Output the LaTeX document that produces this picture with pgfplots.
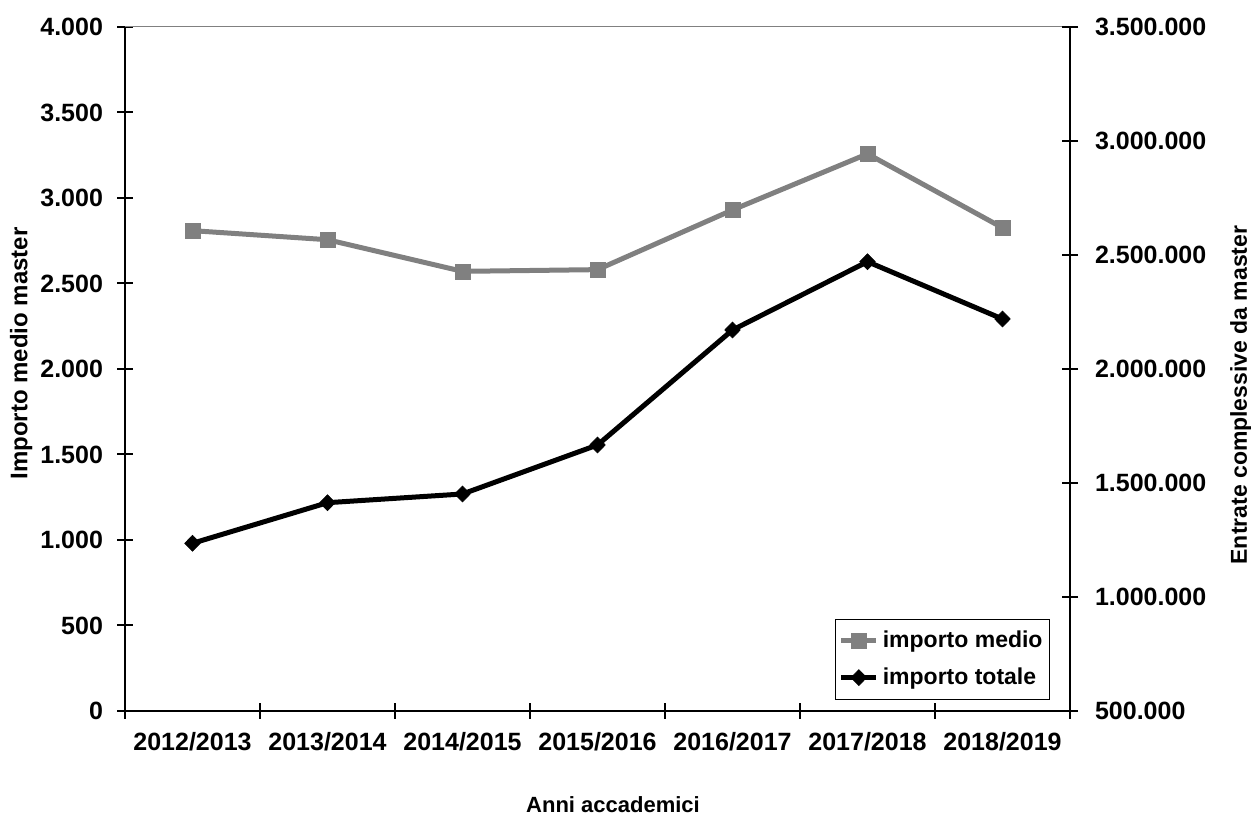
\documentclass[border=0pt]{standalone}
\usepackage{fontspec}
\setmainfont{Liberation Sans}
\usepackage{pgfplots}
\pgfplotsset{compat=1.18}

\definecolor{medio}{HTML}{808080}

% importo medio (left axis)
\pgfplotstableread{
x  y
0  2809
1  2756
2  2571
3  2581
4  2930
5  3258
6  2826
}\medio

% importo totale (right axis)
\pgfplotstableread{
x  y
0  1235526
1  1413596
2  1451754
3  1666667
4  2171053
5  2470614
6  2219298
}\totale

\pgfplotsset{
  commonax/.style={
    scale only axis, width=472.5pt, height=342pt,
    at={(62.5pt,53pt)}, anchor=south west,
    xmin=-0.5, xmax=6.5,
    tick align=center, major tick length=8pt,
    axis line style={line width=1pt},
    tick style={line width=1pt, black},
    ticklabel style={font=\fontsize{12.5}{15}\selectfont\bfseries},
    label style={font=\fontsize{11.5}{14}\selectfont\bfseries},
    /pgf/number format/.cd, fixed, precision=0, 1000 sep={.}, assume math mode=true,
  }
}

\begin{document}
\begin{tikzpicture}
\useasboundingbox (0,0) rectangle (625.5pt,408.5pt);

\begin{axis}[commonax,
  axis y line*=left, axis x line*=bottom,
  ymin=0, ymax=4000, ytick={0,500,...,4000},
  yticklabel style={xshift=-3.5pt},
  xtick={-0.5,0.5,...,6.5}, xticklabels={},
  extra x ticks={0,1,2,3,4,5,6},
  extra x tick labels={2012/2013,2013/2014,2014/2015,2015/2016,2016/2017,2017/2018,2018/2019},
  extra x tick style={major tick length=0pt, xticklabel style={yshift=-7pt}},
  ylabel={Importo medio master},
  ylabel style={at={(rel axis cs:-0.110,0.5227)}, anchor=center,
    font=\fontsize{12}{14}\selectfont\bfseries},
  xlabel={Anni accademici},
  xlabel style={at={(rel axis cs:0.5164,-0.1374)}, anchor=center,
    font=\fontsize{11}{13}\selectfont\bfseries},
]
\draw[medio, line width=0.5pt] (rel axis cs:0,1) -- (rel axis cs:1,1);
\addplot[medio, line width=2.5pt, mark=square*, mark size=3.75pt,
  mark options={solid, line width=0.3pt, fill=medio}] table {\medio};
\end{axis}

\begin{axis}[commonax,
  axis y line*=right, axis x line=none,
  ymin=500000, ymax=3500000, ytick={500000,1000000,...,3500000},
  scaled y ticks=false,
  yticklabel style={xshift=5pt},
  ylabel={Entrate complessive da master},
  ylabel style={at={(rel axis cs:1.181,0.462)}, anchor=center, rotate=0},
  legend style={at={(rel axis cs:0.979,0.016)}, anchor=south east,
    draw=black, line width=0.6pt, inner xsep=1.5pt, inner ysep=4pt,
    font=\fontsize{11.5}{14}\selectfont\bfseries, row sep=4.5pt},
  legend cell align=left,
  legend image code/.code={\draw[mark repeat=2, mark phase=2]
    plot coordinates {(0pt,0pt) (8.75pt,0pt) (17.5pt,0pt)};},
]
\addlegendimage{medio, line width=2.5pt, mark=square*, mark size=3.75pt,
  mark options={solid, line width=0.3pt, fill=medio}}
\addlegendentry{importo medio}
\addplot[black, line width=2.5pt, mark=diamond*, mark size=4pt,
  mark options={solid, line width=0.3pt, fill=black, xscale=1.3}] table {\totale};
\addlegendentry{importo totale}
\end{axis}
\end{tikzpicture}
\end{document}
